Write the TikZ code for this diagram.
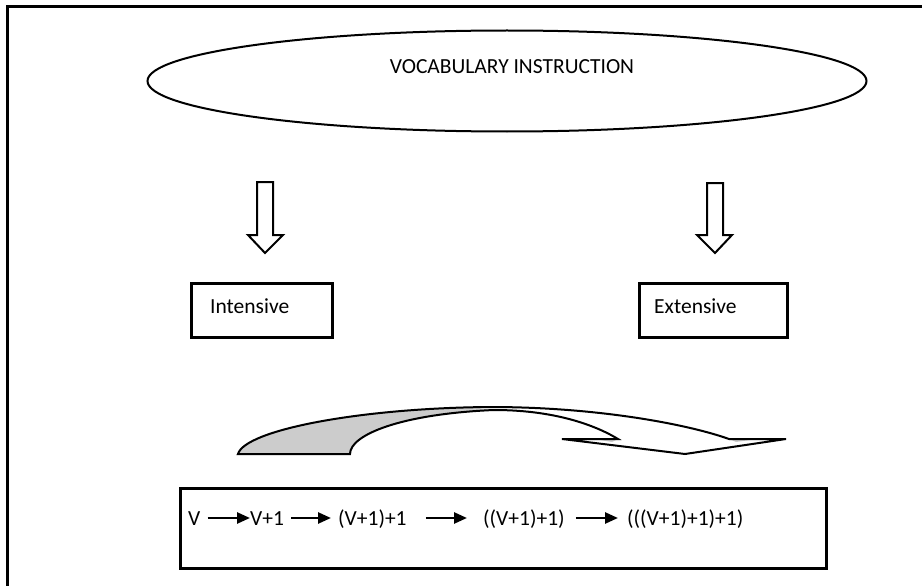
\documentclass[tikz,border=0pt]{standalone}
\usepackage{fontspec}
\setmainfont{Carlito}
\usetikzlibrary{arrows.meta,shapes.geometric}
\begin{document}
\begin{tikzpicture}[x=1pt,y=-1pt,
  lbl/.style={font=\fontsize{21.5}{24}\selectfont, inner sep=0pt, text height=14pt, text depth=0pt},
  boxnode/.style={draw, line width=3pt, inner sep=0pt},
  seqarrow/.style={line width=2.6pt, -{Triangle[length=13pt,width=11pt]}},
  blockarrow/.style={draw, line width=2pt, fill=white, line join=miter},
  curvearrow/.style={draw, line width=2pt, line join=miter}]
\useasboundingbox (0,0) rectangle (922,586);
% frame
\draw[line width=3pt] (922,7) -- (7,7) -- (7,586);
% title ellipse
\node[draw, ellipse, line width=2pt, minimum width=719pt, minimum height=101pt, inner sep=0pt] (vi) at (507,81) {};
\node[lbl] (vit) at (512,67) {VOCABULARY INSTRUCTION};
% block arrows
\path[blockarrow] (257,182) -- (273,182) -- (273,235) -- (283,235) -- (265,253) -- (248,235) -- (257,235) -- cycle;
\path[blockarrow] (707,183) -- (723,183) -- (723,235) -- (732,235) -- (715,253) -- (697,235) -- (707,235) -- cycle;
% boxes
\node[boxnode, minimum width=141pt, minimum height=54pt] (int) at (261.5,310) {};
\node[lbl, anchor=west] (intt) at (210,306) {Intensive};
\node[boxnode, minimum width=148pt, minimum height=54pt] (ext) at (713,310) {};
\node[lbl, anchor=west] (extt) at (654,306) {Extensive};
% curved arrow
\fill[gray!40] (238,454) .. controls (245,430) and (360,408) .. (490,407)
   .. controls (470,407) and (480,409) .. (494,410)
   .. controls (400,414) and (350,435) .. (350,454) -- cycle;
\fill[gray!40] (594,439) -- (618,439) -- (612,442) -- cycle;
\fill[gray!40] (729,439) -- (757,439) -- (736,442) -- cycle;
\path[curvearrow] (238,454) .. controls (245,430) and (360,408) .. (490,407)
   .. controls (600,407) and (690,425) .. (729,439)
   -- (786,439) -- (685,454) -- (562,439) -- (618,439)
   .. controls (600,428) and (560,410) .. (494,410)
   .. controls (400,414) and (350,435) .. (350,454) -- cycle;
% bottom box
\node[boxnode, minimum width=646pt, minimum height=80pt] (seqbox) at (503,528) {};
\node[lbl, anchor=west] (s0) at (188,518) {V};
\node[lbl, anchor=west] (s1) at (250,518) {V+1};
\node[lbl, anchor=west] (s2) at (338,518) {(V+1)+1};
\node[lbl, anchor=west] (s3) at (483,518) {((V+1)+1)};
\node[lbl, anchor=west] (s4) at (627,518) {(((V+1)+1)+1)};
\draw[seqarrow] ([xshift=7pt]s0.east) -- (s1.west);
\draw[seqarrow] ([xshift=7pt]s1.east) -- ([xshift=-7pt]s2.west);
\draw[seqarrow] ([xshift=19pt]s2.east) -- ([xshift=-16pt]s3.west);
\draw[seqarrow] ([xshift=11pt]s3.east) -- ([xshift=-9pt]s4.west);
\end{tikzpicture}
\end{document}
